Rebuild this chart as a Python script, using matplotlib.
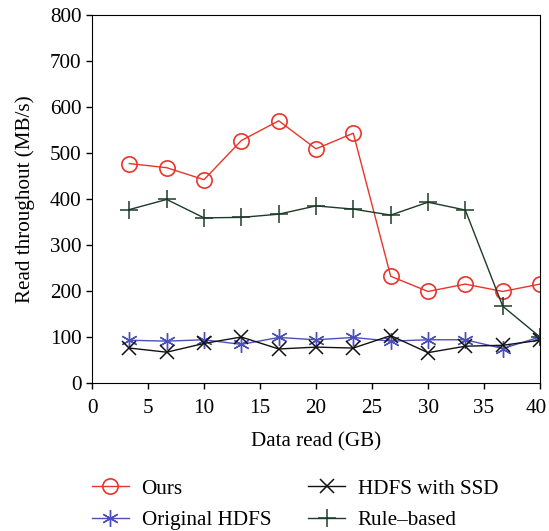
import matplotlib
matplotlib.use("Agg")
import matplotlib.pyplot as plt
import matplotlib.transforms as mtransforms

plt.rcParams['font.family'] = ['Liberation Serif', 'DejaVu Serif']

# x positions: 12 read steps up to 40 GB
data_read = [3.33, 6.67, 10, 13.33, 16.67, 20, 23.33, 26.67, 30, 33.33, 36.67, 40]

ours = [477, 468, 442, 527, 570, 509, 543, 232, 199, 215, 199, 215]
original_hdfs = [93, 91, 94, 84, 99, 94, 99, 91, 94, 94, 75, 100]
hdfs_ssd = [76, 67, 86, 100, 74, 78, 76, 103, 66, 80, 82, 93]
rule_based = [377, 399, 359, 360, 367, 385, 378, 365, 393, 376, 167, 100]

fs = 15.2

fig = plt.figure(figsize=(5.49, 5.31), dpi=100)
ax = fig.add_axes([0.1676, 0.2787, 0.8160, 0.6931])

ax.plot(data_read, ours, color='#e8352b', lw=1, marker='o', ms=11,
        mfc='none', mec='#e8352b', mew=1.2, label='Ours')
ax.plot(data_read, original_hdfs, color='#4b50b8', lw=1, marker=(6, 2, 0), ms=12,
        mew=1.0, label='Original HDFS')
ax.plot(data_read, hdfs_ssd, color='#111111', lw=1, marker='x', ms=10,
        mew=1.1, label='HDFS with SSD')
ax.plot(data_read, rule_based, color='#1d3b28', lw=1, marker='+', ms=13,
        mew=1.1, label='Rule\u2013based')

ax.set_xlim(0, 40)
ax.set_ylim(0, 800)
ax.set_xticks(range(0, 41, 5))
ax.set_yticks(range(0, 801, 100))
ax.tick_params(direction='out', length=4.5, width=1, labelsize=fs)
ax.tick_params(axis='x', pad=7)
ax.tick_params(axis='y', pad=3)
ax.set_xlabel('Data read (GB)', fontsize=fs, labelpad=10)
ax.set_ylabel('Read throughout (MB/s)', fontsize=fs, labelpad=11)

# nudge the last x label so it stays inside the figure
last = ax.get_xticklabels()[-1]
last.set_transform(last.get_transform() +
                   mtransforms.ScaledTranslation(-4 / 100, 0, fig.dpi_scale_trans))

fig.legend(loc='upper left', bbox_to_anchor=(92 / 549, 1 - 479 / 531), ncol=2,
           frameon=False, fontsize=fs, handlelength=1.75, handletextpad=0.6,
           columnspacing=1.75, labelspacing=0.55, borderpad=0, borderaxespad=0)

fig.savefig('out.png', dpi=100)
